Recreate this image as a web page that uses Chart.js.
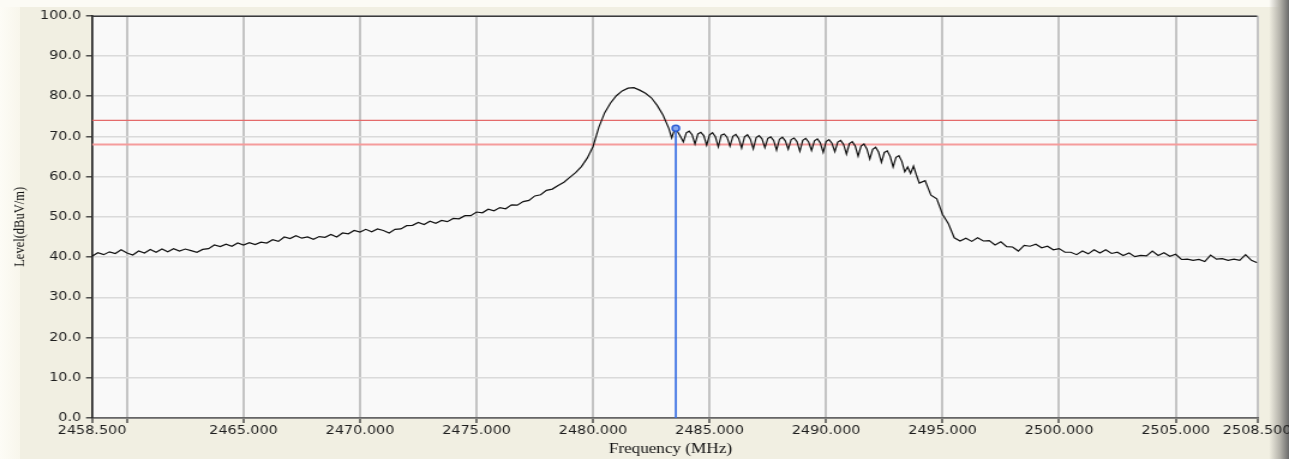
<!DOCTYPE html>
<html><head><meta charset="utf-8">
<script src="https://cdn.jsdelivr.net/npm/chart.js@4.4.1/dist/chart.umd.min.js"></script>
<style>
html,body{margin:0;padding:0;background:#fff;overflow:hidden}
#frame{position:absolute;left:0;top:0;width:1289px;height:459px;background:#F1EFE2;overflow:hidden}
#lstrip{position:absolute;left:0;top:0;width:20px;height:459px;background:linear-gradient(to right,#FDFCF6,#F8F6EC)}
#tstrip{position:absolute;left:0;top:0;width:1289px;height:7px;background:#FCFBF5}
#rshade{position:absolute;right:0;top:0;width:20px;height:459px;background:linear-gradient(to right,rgba(241,239,226,0),#B4B2AA 55%,#6A6A6A)}
#wrap{position:absolute;left:0;top:0;width:1074px;height:459px;transform:scaleX(1.200186);transform-origin:0 0}
</style></head><body>
<div id="frame"><div id="lstrip"></div><div id="tstrip"></div><div id="rshade"></div>
<div id="wrap"><canvas id="c" width="1074" height="459"></canvas></div></div>
<script>
const xTitle = 'Frequency (MHz)';
const yTitle = 'Level(dBuV/m)';
const yTicks = [0,10,20,30,40,50,60,70,80,90,100];
const xTickValues = [2458.5,2460,2465,2470,2475,2480,2485,2490,2495,2500,2505,2508.5];
const xTickLabels = ['2458.500','','2465.000','2470.000','2475.000','2480.000','2485.000','2490.000','2495.000','2500.000','2505.000','2508.500'];
const limitUpper = 74;
const limitLower = 68;
const markerFreq = 2483.55;
const markerLevel = 72;

const segAStart = 2458.5, segAStep = 0.25;
const levelsA = [
40.2,41.1,40.6,41.3,40.9,41.8,41.0,40.5,41.5,41.0,
41.9,41.2,42.0,41.3,42.1,41.5,42.0,41.6,41.2,41.9,
42.1,43.0,42.6,43.2,42.7,43.5,43.0,43.6,43.1,43.7,
43.5,44.3,43.9,45.0,44.6,45.3,44.7,45.0,44.4,45.1,
44.9,45.6,45.0,46.0,45.8,46.6,46.2,46.9,46.3,47.0,
46.6,46.0,46.9,47.0,47.8,47.9,48.6,48.1,48.9,48.4,
49.1,48.8,49.6,49.5,50.3,50.3,51.2,51.0,51.9,51.5,
52.3,52.0,53.0,52.9,53.8,54.1,55.2,55.5,56.6,56.9,
57.8,58.6,59.8,61.0,62.5,64.6,67.5,72.3,75.9,78.3,
80.1,81.3,82.0,82.1,81.5,80.7,79.6,77.7,75.3,72.0];

const segBStart = 2483.375, segBStep = 0.125;
const levelsB = [
69.6,71.8,71.2,70.0,68.6,
70.9,71.3,70.4,68.1, 70.6,71.0,70.2,67.8,
70.4,70.9,69.9,67.4, 70.3,70.6,69.8,67.6,
70.0,70.5,69.5,67.1, 69.9,70.4,69.3,66.9,
69.7,70.2,69.4,67.2, 69.5,69.9,69.0,66.6,
69.3,69.8,68.9,66.8, 69.2,69.6,68.7,66.3,
69.0,69.5,68.6,66.5, 68.9,69.4,68.4,66.0,
68.7,69.2,68.3,66.2, 68.6,69.0,68.0,65.6,
68.2,68.7,67.6,65.1, 67.6,68.1,66.9,64.4,
66.8,67.3,66.1,63.6, 66.0,66.4,65.0,62.4,
64.8,65.2,63.8,61.2,
62.4,60.8,62.6,60.4,58.4];

const segCStart = 2494.25, segCStep = 0.25;
const levelsC = [
59.0,55.4,54.5,50.6,48.3,44.8,44.0,44.7,43.9,44.8,
44.0,44.1,43.0,43.8,42.6,42.5,41.5,42.9,42.7,43.2,
42.3,42.7,41.8,42.1,41.2,41.2,40.6,41.5,40.8,41.8,
41.0,41.8,40.9,41.2,40.4,41.0,40.1,40.4,40.3,41.5,
40.4,41.1,40.2,40.7,39.4,39.5,39.2,39.4,38.9,40.5,
39.5,39.6,39.2,39.5,39.2,40.6,39.2,38.6];

function seg(start, step, vals){ return vals.map((v,i)=>({x:+(start+i*step).toFixed(3), y:v})); }
const trace = [].concat(seg(segAStart,segAStep,levelsA), seg(segBStart,segBStep,levelsB), seg(segCStart,segCStep,levelsC));
const xMin = xTickValues[0], xMax = xTickValues[xTickValues.length-1];

const bgPlugin = {
  id:'plotbg',
  beforeDraw(chart){
    const {ctx, chartArea:a} = chart;
    ctx.save(); ctx.fillStyle='#F9F9F9'; ctx.fillRect(a.left,a.top,a.right-a.left,a.bottom-a.top); ctx.restore();
  },
  afterDraw(chart){
    const {ctx, chartArea:a} = chart;
    ctx.save();
    ctx.strokeStyle='#3a3a3a'; ctx.lineWidth=1.4;
    ctx.beginPath(); ctx.moveTo(a.left,a.top+0.5); ctx.lineTo(a.right,a.top+0.5); ctx.stroke();
    ctx.fillStyle='#111';
    ctx.font='12.5px "Liberation Serif", "Times New Roman", serif';
    ctx.textAlign='center'; ctx.textBaseline='middle';
    ctx.translate(17, (a.top+a.bottom)/2 + 10);
    ctx.rotate(-Math.PI/2);
    ctx.fillText(yTitle,0,0);
    ctx.restore();
    ctx.save();
    ctx.fillStyle='#111';
    ctx.font='14.3px "Liberation Serif", "Times New Roman", serif';
    ctx.textAlign='center'; ctx.textBaseline='alphabetic';
    ctx.fillText(xTitle, (a.left+a.right)/2 - 3.5, 452.5);
    ctx.restore();
  }
};

new Chart(document.getElementById('c'), {
  type:'line',
  data:{datasets:[
    {data:[{x:markerFreq,y:0},{x:markerFreq,y:markerLevel}], borderColor:'#3A70E4', borderWidth:1.7,
     pointRadius:[0,3], pointBackgroundColor:'#86A8EE', pointBorderColor:'#2D5FD6', pointBorderWidth:1.5, order:0},
    {data:trace, borderColor:'#111111', borderWidth:1.2, pointRadius:0, tension:0, order:1},
    {data:[{x:xMin,y:limitUpper},{x:xMax,y:limitUpper}], borderColor:'#E46A6A', borderWidth:1.2, pointRadius:0, order:2},
    {data:[{x:xMin,y:limitLower},{x:xMax,y:limitLower}], borderColor:'#F59C9C', borderWidth:2, pointRadius:0, order:2}
  ]},
  options:{
    responsive:false, animation:false, events:[],
    layout:{padding:{left:0,right:26.5,top:15.7,bottom:0}},
    plugins:{legend:{display:false}, tooltip:{enabled:false}},
    scales:{
      x:{type:'linear', min:xMin, max:xMax,
        afterBuildTicks:s=>{ s.ticks = xTickValues.map(v=>({value:v})); },
        afterFit:s=>{ s.height=41; s.paddingLeft=0; s.paddingRight=0; },
        ticks:{autoSkip:false, maxRotation:0, minRotation:0, padding:1, color:'#1e1e1e',
          font:{family:'"DejaVu Sans", Verdana, sans-serif', size:12}, callback:(v,i)=>xTickLabels[i]},
        grid:{color:'#C4C4C4', lineWidth:2, tickColor:'#333', tickWidth:1.3, tickLength:5},
        border:{color:'#666', width:1.8}
      },
      y:{type:'linear', min:0, max:100,
        afterBuildTicks:s=>{ s.ticks = yTicks.map(v=>({value:v})); },
        afterFit:s=>{ s.width=76.67; },
        ticks:{padding:4, color:'#1e1e1e', font:{family:'"DejaVu Sans", Verdana, sans-serif', size:12},
          callback:v=>Number(v).toFixed(1)},
        grid:{color:'#DADADA', lineWidth:1.6, tickColor:'#333', tickWidth:1.3, tickLength:5},
        border:{color:'#222', width:1.6}
      }
    }
  },
  plugins:[bgPlugin]
});
</script>
</body></html>
